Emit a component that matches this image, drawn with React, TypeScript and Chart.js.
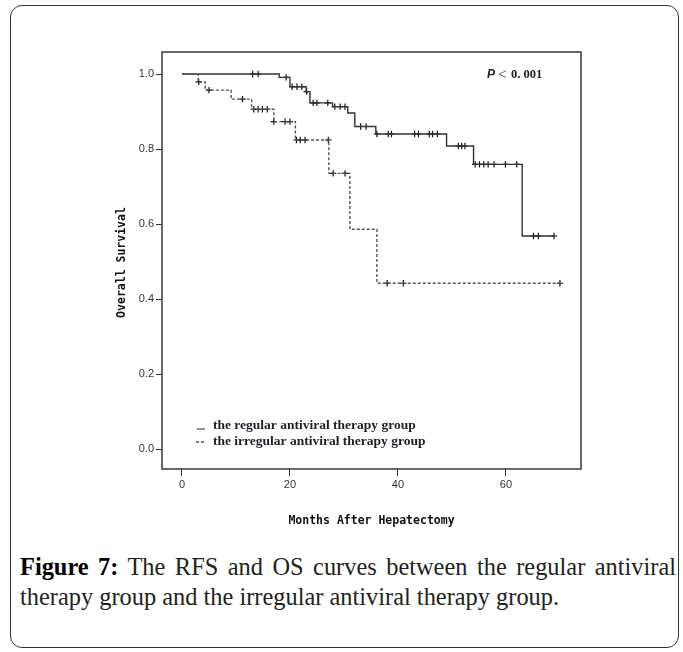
import React, { useEffect, useRef } from "react";
import { Chart, registerables } from "chart.js";

Chart.register(...registerables);

// Axis ticks
const xTicks = [0, 20, 40, 60];
const yTicks = [0, 0.2, 0.4, 0.6, 0.8, 1.0];

// Kaplan-Meier steps: regular antiviral therapy group (months, survival)
const regularTimes = [0, 18, 20, 23, 23.7, 27.9, 30.7, 32, 35.9, 49, 54, 63, 69];
const regularSurvival = [1.0, 0.991, 0.966, 0.953, 0.923, 0.913, 0.896, 0.86, 0.84, 0.808, 0.759, 0.568, 0.568];
const regularCensored = [
  13.1, 14.1, 19.3, 20.4, 21.3, 22.2, 23.1, 24.3, 25.0, 27.0, 28.3, 29.3, 30.2, 33.1, 34.1,
  36.1, 38.2, 38.8, 43.1, 43.8, 45.8, 46.4, 47.3, 51.2, 51.8, 52.4, 54.3, 55.1, 55.9, 56.7,
  57.8, 59.9, 62.0, 65.1, 66.0, 68.9,
];

// Kaplan-Meier steps: irregular antiviral therapy group (months, survival)
const irregularTimes = [0, 3, 4.3, 9.1, 12.9, 17, 21, 27.2, 31.1, 36.1, 70];
const irregularSurvival = [1.0, 0.979, 0.957, 0.933, 0.906, 0.873, 0.824, 0.735, 0.586, 0.442, 0.442];
const irregularCensored = [
  3.1, 5.0, 11.2, 13.3, 14.1, 14.9, 15.8, 17.0, 19.1, 20.0, 21.2, 21.9, 22.8, 27.1, 28.0,
  30.2, 38.0, 41.0, 70.0,
];

const legendLabels = ["the regular antiviral therapy group", "the irregular antiviral therapy group"];
const xTitle = "Months After Hepatectomy";
const yTitle = "Overall Survival";
const pValueText = "0. 001";

// Survival level of a step curve at time t
function levelAt(times: number[], surv: number[], t: number): number {
  let s = surv[0];
  for (let i = 0; i < times.length; i++) {
    if (times[i] <= t) s = surv[i];
  }
  return s;
}

const toPoints = (times: number[], surv: number[]) => times.map((t, i) => ({ x: t, y: surv[i] }));
const censorPoints = (cens: number[], times: number[], surv: number[]) =>
  cens.map((t) => ({ x: t, y: levelAt(times, surv, t) }));

const overlayPlugin = {
  id: "kmOverlay",
  afterDraw(chart: any) {
    const { ctx, chartArea } = chart;
    const { left, top, right, bottom } = chartArea;
    ctx.save();

    // plot frame
    ctx.strokeStyle = "#444";
    ctx.lineWidth = 1.6;
    ctx.strokeRect(left, top, right - left, bottom - top);

    // axis titles
    ctx.fillStyle = "#111";
    ctx.font = "bold 11.5px 'DejaVu Sans Mono', 'Liberation Mono', monospace";
    ctx.textAlign = "center";
    ctx.textBaseline = "middle";
    ctx.fillText(xTitle, (left + right) / 2, 521);
    ctx.save();
    ctx.translate(122, (top + bottom) / 2 + 2);
    ctx.rotate(-Math.PI / 2);
    ctx.fillText(yTitle, 0, 0);
    ctx.restore();

    // p-value
    ctx.textAlign = "left";
    ctx.fillStyle = "#222";
    ctx.font = "italic bold 12px 'Liberation Sans', Arial, sans-serif";
    ctx.fillText("P", 487, 75);
    ctx.font = "15px 'Liberation Serif', serif";
    ctx.fillText("<", 498, 75);
    ctx.font = "bold 12.5px 'Liberation Serif', serif";
    ctx.fillText(pValueText, 511, 75);

    // legend
    const lx = 196;
    const rows = [426, 442];
    ctx.strokeStyle = "#555";
    ctx.lineWidth = 1.3;
    ctx.beginPath();
    ctx.moveTo(lx + 1, rows[0] + 3);
    ctx.lineTo(lx + 9, rows[0] + 3);
    ctx.stroke();
    ctx.setLineDash([3, 2]);
    ctx.beginPath();
    ctx.moveTo(lx, rows[1]);
    ctx.lineTo(lx + 9, rows[1]);
    ctx.stroke();
    ctx.setLineDash([]);
    ctx.fillStyle = "#1d1d2b";
    ctx.font = "bold 13.5px 'Liberation Serif', 'Times New Roman', serif";
    ctx.textBaseline = "middle";
    legendLabels.forEach((label, i) => ctx.fillText(label, 213, rows[i]));

    ctx.restore();
  },
};

export default function App() {
  const canvasRef = useRef<HTMLCanvasElement | null>(null);

  useEffect(() => {
    if (!canvasRef.current) return;
    const tickFont = { family: "'Liberation Sans', Arial, sans-serif", size: 11 };
    const chart = new Chart(canvasRef.current, {
      type: "line",
      data: {
        datasets: [
          {
            label: legendLabels[1],
            data: toPoints(irregularTimes, irregularSurvival),
            stepped: "before",
            borderColor: "#555",
            borderWidth: 1.4,
            borderDash: [3, 2],
            pointRadius: 0,
            fill: false,
          },
          {
            label: legendLabels[0],
            data: toPoints(regularTimes, regularSurvival),
            stepped: "before",
            borderColor: "#333",
            borderWidth: 1.4,
            pointRadius: 0,
            fill: false,
          },
          {
            label: "censored irregular",
            data: censorPoints(irregularCensored, irregularTimes, irregularSurvival),
            showLine: false,
            pointStyle: "cross",
            pointRadius: 3.2,
            pointBorderColor: "#111",
            pointBorderWidth: 1.2,
          },
          {
            label: "censored regular",
            data: censorPoints(regularCensored, regularTimes, regularSurvival),
            showLine: false,
            pointStyle: "cross",
            pointRadius: 3.2,
            pointBorderColor: "#111",
            pointBorderWidth: 1.2,
          },
        ],
      },
      options: {
        animation: false,
        responsive: false,
        devicePixelRatio: 1,
        layout: { padding: { top: 52, right: 102, bottom: 0, left: 0 } },
        plugins: { legend: { display: false }, tooltip: { enabled: false } },
        scales: {
          x: {
            type: "linear",
            min: -3.7,
            max: 73.9,
            afterFit: (s: any) => {
              s.height = 71;
            },
            afterBuildTicks: (s: any) => {
              s.ticks = xTicks.map((v) => ({ value: v }));
            },
            ticks: {
              color: "#333",
              font: tickFont,
              padding: 2,
              maxRotation: 0,
              callback: (v: any) => String(v),
            },
            grid: { drawOnChartArea: false, drawTicks: true, tickLength: 7, color: "#333" },
            border: { display: false },
          },
          y: {
            type: "linear",
            min: -0.0533,
            max: 1.0587,
            afterFit: (s: any) => {
              s.width = 162;
            },
            afterBuildTicks: (s: any) => {
              s.ticks = yTicks.map((v) => ({ value: v }));
            },
            ticks: {
              color: "#333",
              font: tickFont,
              padding: 2,
              callback: (v: any) => Number(v).toFixed(1),
            },
            grid: { drawOnChartArea: false, drawTicks: true, tickLength: 6, color: "#333" },
            border: { display: false },
          },
        },
      },
      plugins: [overlayPlugin],
    });
    return () => chart.destroy();
  }, []);

  return (
    <div>
      <div
        style={{
          position: "absolute",
          left: 10,
          top: 5,
          width: 669,
          height: 643,
          border: "1.6px solid #333",
          borderRadius: 12,
          boxSizing: "border-box",
        }}
      />
      <canvas
        ref={canvasRef}
        width={683}
        height={540}
        style={{ position: "absolute", left: 0, top: 0, width: 683, height: 540 }}
      />
      <div
        style={{
          position: "absolute",
          left: 20,
          top: 552,
          width: 656,
          fontFamily: "'Liberation Serif', 'Times New Roman', serif",
          fontSize: 24.4,
          lineHeight: "30px",
          color: "#222",
        }}
      >
        <div style={{ textAlign: "justify", textAlignLast: "justify" }}>
          <b style={{ color: "#000" }}>Figure 7:</b> The RFS and OS curves between the regular antiviral
        </div>
        <div>therapy group and the irregular antiviral therapy group.</div>
      </div>
    </div>
  );
}
